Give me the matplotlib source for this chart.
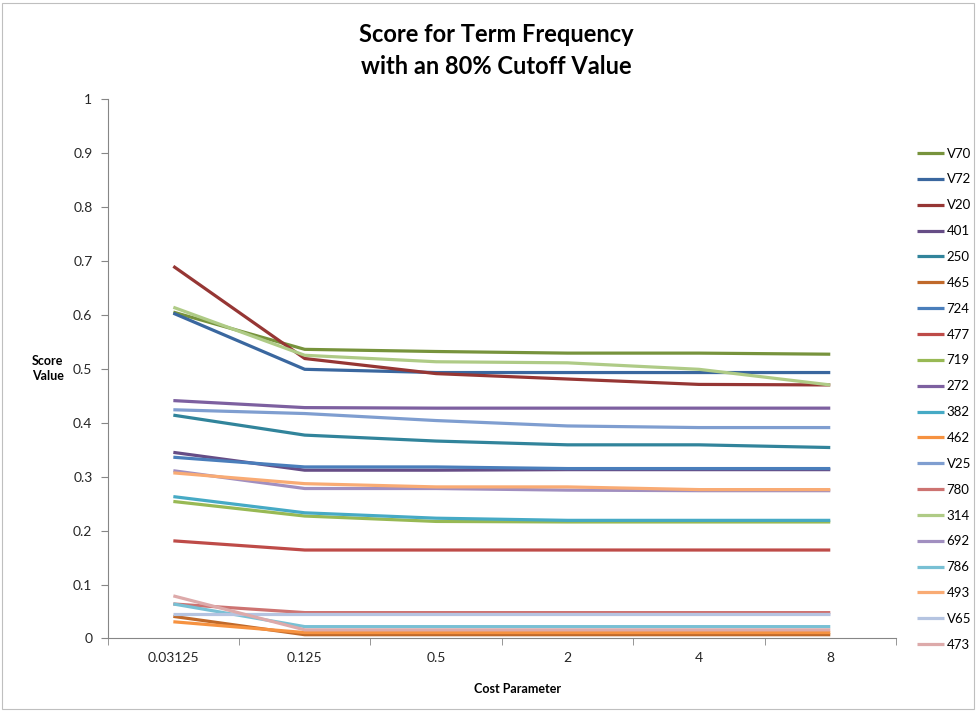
import matplotlib.pyplot as plt
import matplotlib.transforms as mtransforms
from matplotlib.patches import Rectangle

plt.rcParams['font.family'] = ['Lato', 'DejaVu Sans']

# Data
cost = ["0.03125", "0.125", "0.5", "2", "4", "8"]

names = ["V70", "V72", "V20", "401", "250", "465", "724", "477", "719", "272",
         "382", "462", "V25", "780", "314", "692", "786", "493", "V65", "473"]

V70 = [0.605, 0.536, 0.532, 0.529, 0.529, 0.527]
V72 = [0.603, 0.499, 0.493, 0.493, 0.493, 0.493]
V20 = [0.690, 0.519, 0.491, 0.481, 0.471, 0.470]
s401 = [0.345, 0.312, 0.312, 0.313, 0.313, 0.313]
s250 = [0.414, 0.377, 0.366, 0.359, 0.359, 0.354]
s465 = [0.041, 0.007, 0.007, 0.007, 0.007, 0.007]
s724 = [0.336, 0.318, 0.318, 0.315, 0.315, 0.315]
s477 = [0.181, 0.164, 0.164, 0.164, 0.164, 0.164]
s719 = [0.254, 0.227, 0.217, 0.216, 0.216, 0.216]
s272 = [0.441, 0.428, 0.427, 0.427, 0.427, 0.427]
s382 = [0.263, 0.233, 0.223, 0.219, 0.219, 0.219]
s462 = [0.031, 0.011, 0.011, 0.011, 0.011, 0.011]
V25 = [0.424, 0.417, 0.404, 0.394, 0.391, 0.391]
s780 = [0.064, 0.048, 0.048, 0.048, 0.048, 0.048]
s314 = [0.614, 0.525, 0.513, 0.511, 0.499, 0.470]
s692 = [0.311, 0.278, 0.278, 0.275, 0.274, 0.274]
s786 = [0.064, 0.022, 0.022, 0.022, 0.022, 0.022]
s493 = [0.307, 0.287, 0.281, 0.281, 0.276, 0.276]
V65 = [0.045, 0.045, 0.045, 0.045, 0.045, 0.045]
s473 = [0.079, 0.016, 0.016, 0.016, 0.016, 0.016]

series = [V70, V72, V20, s401, s250, s465, s724, s477, s719, s272,
          s382, s462, V25, s780, s314, s692, s786, s493, V65, s473]

colors = ["#77933C", "#3A679F", "#963634", "#664D86", "#31849B", "#C0692A",
          "#4A7EBB", "#BE4B48", "#98B954", "#7D60A0", "#46AAC5", "#F69240",
          "#7F9ED0", "#CD7371", "#AFCB86", "#A18FC0", "#78C0D4", "#F9AB74",
          "#B5C4E1", "#DDAAAA"]

fig = plt.figure(figsize=(9.76, 7.13), dpi=100)
ax = fig.add_axes([0.1103, 0.1045, 0.8077, 0.7566])

x = list(range(len(cost)))
for name, vals, c in zip(names, series, colors):
    ax.plot(x, vals, color=c, lw=2.3, label=name, solid_capstyle='butt')

ax.set_xlim(-0.5, len(cost) - 0.5)
ax.set_ylim(0, 1)
ax.set_yticks([i / 10 for i in range(11)])
ax.set_yticklabels(["0", "0.1", "0.2", "0.3", "0.4", "0.5", "0.6", "0.7", "0.8", "0.9", "1"])
ax.set_xticks(x)
ax.set_xticklabels(cost)
ax.set_xticks([i - 0.5 for i in range(len(cost) + 1)], minor=True)
ax.tick_params(axis='x', which='major', length=0, pad=10, labelsize=10, colors='#262626')
ax.tick_params(axis='x', which='minor', length=5, color='#868686')
ax.tick_params(axis='y', length=5, color='#868686', labelsize=10, labelcolor='#262626', pad=6)

for s in ['top', 'right']:
    ax.spines[s].set_visible(False)
for s in ['left', 'bottom']:
    ax.spines[s].set_color('#868686')

fig.text(0.509, 0.929, "Score for Term Frequency\nwith an 80% Cutoff Value",
         ha='center', va='center', fontsize=17, fontweight='bold', linespacing=1.5)

# y label sits level with the 0.5 tick
trans = mtransforms.blended_transform_factory(fig.transFigure, ax.transData)
ax.text(0.049, 0.5, "Score\nValue", transform=trans, ha='center', va='center',
        fontsize=9, fontweight='bold', linespacing=1.3)
fig.text(0.530, 0.034, "Cost Parameter", ha='center', va='center',
         fontsize=9, fontweight='bold')

fig.legend(loc='upper left', bbox_to_anchor=(0.940, 0.793), frameon=False,
           fontsize=9.5, handlelength=2.0, handletextpad=0.2,
           labelspacing=1.05, borderaxespad=0, borderpad=0)

fig.patches.append(Rectangle((0.002, 0.006), 0.996, 0.99, transform=fig.transFigure,
                             fill=False, edgecolor='#BFBFBF', lw=0.8))

fig.savefig("out.png", dpi=100)
